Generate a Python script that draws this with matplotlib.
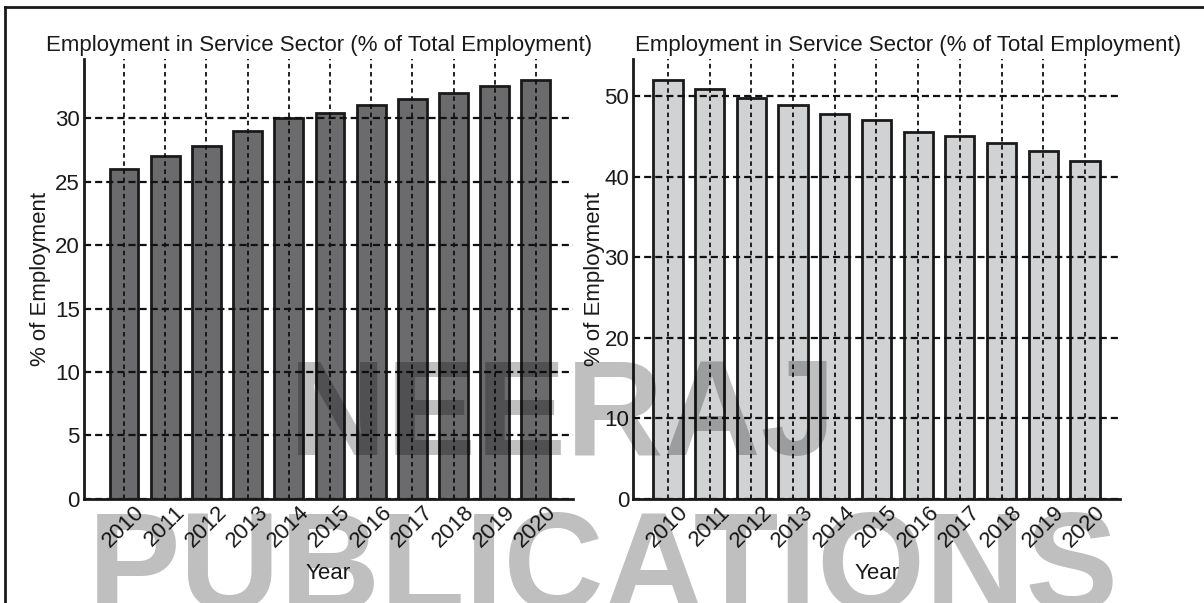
import matplotlib.pyplot as plt
from matplotlib.lines import Line2D

plt.rcParams['font.family'] = ['Liberation Sans', 'DejaVu Sans']

# data
years = ['2010', '2011', '2012', '2013', '2014', '2015',
         '2016', '2017', '2018', '2019', '2020']
service_left = [26.0, 27.0, 27.8, 29.0, 30.0, 30.4, 31.0, 31.5, 32.0, 32.5, 33.0]
service_right = [52.0, 50.9, 49.8, 48.9, 47.8, 47.0, 45.6, 45.1, 44.2, 43.2, 42.0]
title = 'Employment in Service Sector (% of Total Employment)'

fig = plt.figure(figsize=(12.04, 6.03), dpi=100)
ax1 = fig.add_axes([0.0698, 0.1725, 0.4061, 0.7297])
ax2 = fig.add_axes([0.5260, 0.1725, 0.4042, 0.7297])

panels = [
    (ax1, service_left, '#6b6b6e', [0, 5, 10, 15, 20, 25, 30], (-0.97, 10.9), 0.481, -0.0685),
    (ax2, service_right, '#d1d2d4', [0, 10, 20, 30, 40, 50], (-0.83, 10.84), 0.565, -0.059),
]

for ax, vals, color, yticks, xlim, tx, lx in panels:
    x = range(len(years))
    ax.bar(x, vals, width=0.7, color=color, edgecolor='#1a1a1a', linewidth=2, zorder=1)
    ax.set_xlim(*xlim)
    ax.set_yticks(yticks)
    ax.set_xticks(list(x))
    ax.set_xticklabels(years, rotation=45, ha='center', fontsize=16)
    ax.tick_params(axis='both', length=0, pad=3, labelsize=16, colors='#1a1a1a')
    ax.tick_params(axis='x', pad=2)

    # dashed grid drawn over the bars
    ax.set_axisbelow(False)
    ax.yaxis.grid(True, color='#111111', linewidth=1.6, dashes=(3.2, 1.8))
    ax.xaxis.grid(True, color='#111111', linewidth=1.3, dashes=(2.5, 2.0))

    for s in ['top', 'right']:
        ax.spines[s].set_visible(False)
    for s in ['left', 'bottom']:
        ax.spines[s].set_linewidth(2)
        ax.spines[s].set_color('#1a1a1a')
        ax.spines[s].set_zorder(3)

    ax.text(tx, 1.006, title, transform=ax.transAxes, ha='center', va='bottom',
            fontsize=16, color='#1a1a1a')
    ax.set_xlabel('Year', fontsize=16, color='#1a1a1a', labelpad=8)
    ax.set_ylabel('% of Employment', fontsize=16, color='#1a1a1a')
    ax.yaxis.set_label_coords(lx, 0.5)

# frame lines on top and left of the page
fig.add_artist(Line2D([0.004, 1.0], [0.989, 0.989], transform=fig.transFigure,
                      color='#1a1a1a', linewidth=2))
fig.add_artist(Line2D([0.0045, 0.0045], [0.0, 0.989], transform=fig.transFigure,
                      color='#1a1a1a', linewidth=2))

# watermark
fig.text(0.467, 0.245, 'NEERAJ', fontsize=97, fontweight='bold', color='black',
         alpha=0.25, ha='center', va='baseline', zorder=10)
fig.text(0.501, -0.012, 'PUBLICATIONS', fontsize=100, fontweight='bold', color='black',
         alpha=0.25, ha='center', va='baseline', zorder=10)

plt.savefig('out.png', dpi=100)
